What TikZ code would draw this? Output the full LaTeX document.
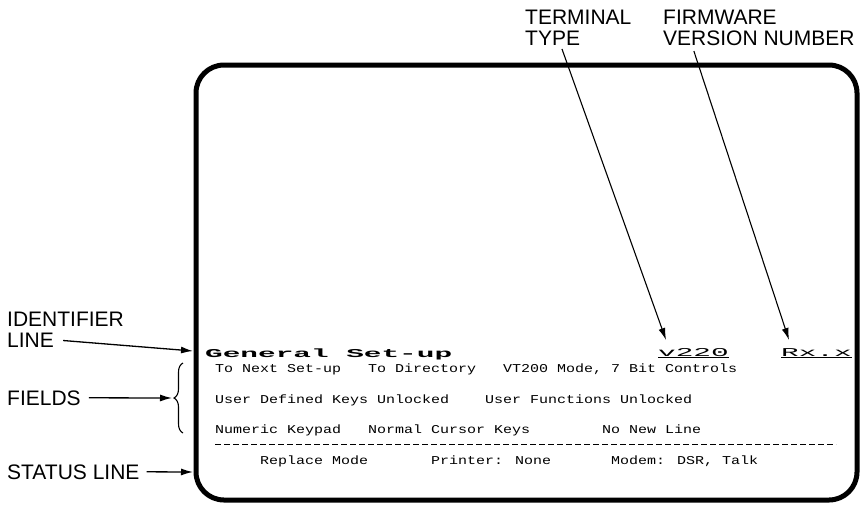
\documentclass[tikz,border=0pt]{standalone}
\usepackage{fontspec}
\setmainfont{Liberation Sans}
\newfontfamily\termfont[FakeStretch=1.25]{Liberation Mono}
\newfontfamily\widefont[FakeStretch=2.45]{Liberation Mono}
\usetikzlibrary{positioning, arrows.meta, decorations.pathreplacing}

\begin{document}
\begin{tikzpicture}[x=1pt,y=-1pt,
    lbl/.style={anchor=base west,inner sep=0pt,font=\fontsize{21}{21}\selectfont},
    scr/.style={anchor=base west,inner sep=0pt,font=\termfont\fontsize{12}{12}\selectfont},
    big/.style={anchor=base west,inner sep=0pt,font=\widefont\fontsize{12}{12}\selectfont},
    arr/.style={-{Latex[length=12pt,width=7pt]},line width=1.3pt},
    screen/.style={line width=5pt,rounded corners=28pt}]
  \useasboundingbox (0,0) rectangle (862,507);
  \draw[screen] (196,65) rectangle (857,500);

  \node[lbl] (termA) at (525,24) {TERMINAL};
  \node[lbl] (termB) at (525,45) {TYPE};
  \node[lbl] (firmA) at (663,24) {FIRMWARE};
  \node[lbl] (firmB) at (663,45) {VERSION NUMBER};

  \node[lbl] (idA) at (7,326) {IDENTIFIER};
  \node[lbl] (idB) at (7,347) {LINE};
  \node[lbl] (fields) at (7,405) {FIELDS};
  \node[lbl] (status) at (7,479) {STATUS LINE};

  \node[big,font=\widefont\fontsize{12}{12}\selectfont\bfseries] (ident) at (205,357) {General Set-up};
  \node[big] (ttype) at (658,356) {\underline{v220}};
  \node[big] (fwver) at (781,356) {\underline{Rx.x}};

  \node[scr] (nextsetup) at (215,372) {To Next Set-up};
  \node[scr] (directory) at (368,372) {To Directory};
  \node[scr] (vtmode) at (503,372) {VT200 Mode, 7 Bit Controls};
  \node[scr] (udkeys) at (215,403) {User Defined Keys Unlocked};
  \node[scr] (ufuncs) at (485,403) {User Functions Unlocked};
  \node[scr] (keypad) at (215,433) {Numeric Keypad};
  \node[scr] (cursor) at (368,433) {Normal Cursor Keys};
  \node[scr] (newline) at (602,433) {No New Line};
  \draw[dash pattern=on 6pt off 3pt,line width=0.9pt] (215,444) -- (836,444);
  \node[scr] (replace) at (260,464) {Replace Mode};
  \node[scr] (printer) at (431,464) {Printer: None};
  \node[scr] (modem) at (611,464) {Modem: DSR, Talk};

  \coordinate (typetip) at (666,340);
  \coordinate (firmtip) at (789,340);
  \coordinate (idtip) at (193,351);
  \coordinate (bracetip) at (172,398);
  \coordinate (sttip) at (193,472);

  \draw[line width=1.1pt,decorate,decoration={brace,amplitude=9pt}] (183,433) -- (183,363);
  \draw[arr,line width=1.1pt,shorten <=4pt] ([xshift=8pt]termB.south) -- (typetip);
  \draw[arr,line width=1.1pt,shorten <=6pt] ([xshift=29pt]firmB.south west) -- (firmtip);
  \draw[arr,shorten <=9pt] (idB.east) -- (idtip);
  \draw[arr,shorten <=8pt] (fields.east) -- (bracetip);
  \draw[arr,shorten <=7pt] (status.east) -- (sttip);
\end{tikzpicture}
\end{document}
